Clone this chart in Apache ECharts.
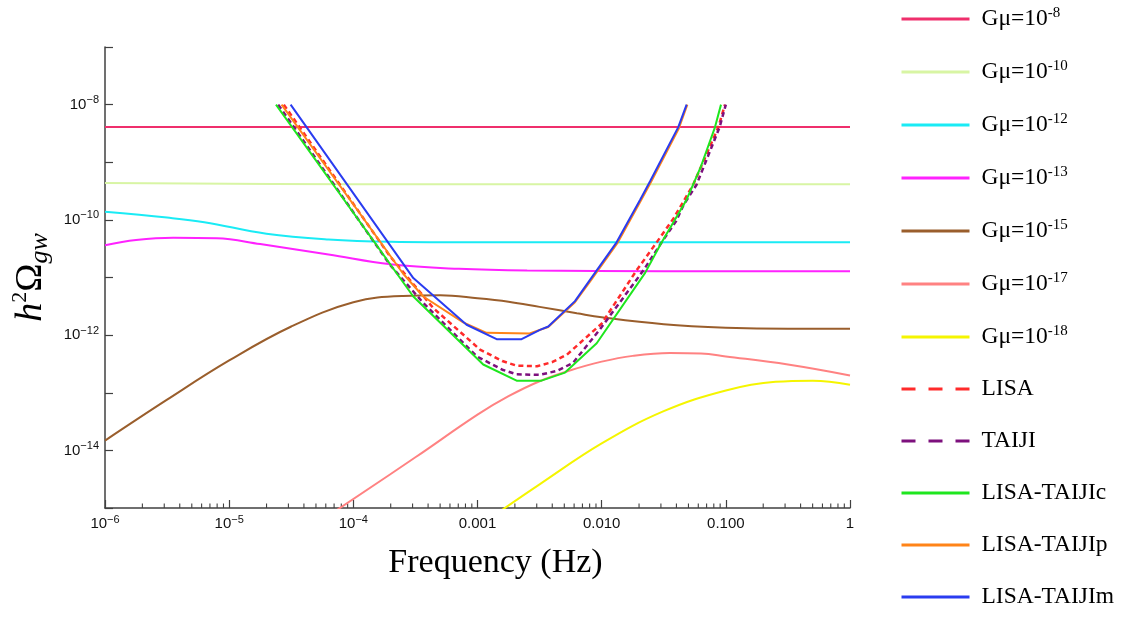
<!DOCTYPE html>
<html>
<head>
<meta charset="utf-8">
<title>h2 Omega gw sensitivity</title>
<script src="https://cdn.jsdelivr.net/npm/echarts@6/dist/echarts.min.js"></script>
<style>
  html, body { margin: 0; padding: 0; background: #fff; }
  #chart { width: 1142px; height: 619px; }
</style>
</head>
<body>
<div id="chart"></div>
<script>
// points, as [log10 f (Hz), log10 h^2 Omega_gw]
const gmu8 = [[-6, -8.39], [-3, -8.39], [0, -8.39]];
const gmu10 = [[-6, -9.36], [-4, -9.38], [0, -9.38]];
const gmu12 = [[-6, -9.86], [-5.5, -9.96], [-5.2, -10.04], [-4.7, -10.24], [-4.2, -10.34], [-3.7, -10.38], [-3, -10.39], [0, -10.39]];
const gmu13 = [[-6, -10.44], [-5.75, -10.35], [-5.45, -10.31], [-5.1, -10.32], [-4.75, -10.42], [-4.2, -10.60], [-3.7, -10.77], [-3.15, -10.85], [-2.6, -10.88], [-1.5, -10.89], [0, -10.89]];
const gmu15 = [[-6, -13.83], [-5.5, -13.12], [-5, -12.44], [-4.5, -11.85], [-4, -11.43], [-3.6, -11.32], [-3.3, -11.31], [-3, -11.36], [-2.75, -11.42], [-2.5, -11.51], [-2.2, -11.62], [-2, -11.69], [-1.5, -11.81], [-1, -11.87], [-0.5, -11.89], [0, -11.89]];
const gmu17 = [[-4.15, -15.06], [-3.5, -14.12], [-3, -13.38], [-2.75, -13.06], [-2.5, -12.80], [-2.25, -12.61], [-2, -12.46], [-1.75, -12.36], [-1.45, -12.31], [-1.2, -12.32], [-1, -12.37], [-0.5, -12.51], [0, -12.70]];
const gmu18 = [[-2.82, -15.06], [-2.5, -14.59], [-2, -13.88], [-1.5, -13.32], [-1, -12.96], [-0.6, -12.81], [-0.3, -12.79], [0, -12.86]];

const lisa = [[-4.56, -8], [-3.705, -10.63], [-3.356, -11.53], [-2.98, -12.25], [-2.8, -12.45], [-2.685, -12.53], [-2.52, -12.54], [-2.4, -12.47], [-2.28, -12.34], [-2.0, -11.80], [-1.72, -10.88], [-1.557, -10.39], [-1.42, -9.97], [-1.263, -9.39], [-1.06, -8.39], [-1.007, -8]];
const taiji = [[-4.605, -8], [-3.705, -10.78], [-3.437, -11.44], [-3.005, -12.37], [-2.8, -12.60], [-2.685, -12.68], [-2.5, -12.69], [-2.36, -12.62], [-2.23, -12.48], [-2.014, -11.90], [-1.665, -10.88], [-1.517, -10.39], [-1.4, -10.02], [-1.34, -9.74], [-1.236, -9.39], [-1.05, -8.39], [-1.0, -8]];
const lisaTaijiC = [[-4.623, -8], [-3.517, -11.33], [-2.954, -12.51], [-2.685, -12.79], [-2.485, -12.79], [-2.295, -12.65], [-2.04, -12.14], [-1.65, -10.92], [-1.52, -10.40], [-1.316, -9.65], [-1.2, -9.07], [-1.087, -8.39], [-1.039, -8]];
const lisaTaijiP = [[-4.578, -8], [-3.6, -10.93], [-3.437, -11.33], [-3.115, -11.78], [-2.927, -11.96], [-2.58, -11.97], [-2.43, -11.86], [-2.215, -11.43], [-2.09, -11.06], [-1.875, -10.41], [-1.685, -9.67], [-1.605, -9.35], [-1.378, -8.41], [-1.31, -8]];
const lisaTaijiM = [[-4.505, -8], [-3.517, -11.01], [-3.088, -11.82], [-2.846, -12.07], [-2.645, -12.07], [-2.497, -11.91], [-2.43, -11.85], [-2.215, -11.41], [-2.094, -11.04], [-1.88, -10.39], [-1.69, -9.65], [-1.61, -9.33], [-1.383, -8.39], [-1.316, -8]];

const seriesNames = ['Gμ=10^-8', 'Gμ=10^-10', 'Gμ=10^-12', 'Gμ=10^-13', 'Gμ=10^-15', 'Gμ=10^-17', 'Gμ=10^-18',
    'LISA', 'TAIJI', 'LISA-TAIJIc', 'LISA-TAIJIp', 'LISA-TAIJIm'];
const seriesData = [gmu8, gmu10, gmu12, gmu13, gmu15, gmu17, gmu18, lisa, taiji, lisaTaijiC, lisaTaijiP, lisaTaijiM];
const colorPallet = ['#ef2f6c', '#d8f5a4', '#1aebf5', '#ff22ff', '#9a5e2c', '#ff8282', '#f5f500',
    '#ff2a2a', '#7d107d', '#1ee61e', '#ff8418', '#2a3cf0'];

const xTickLabels = ['10^−6', '10^−5', '10^−4', '0.001', '0.010', '0.100', '1'];
const yTickLabels = ['', '10^−14', '', '10^−12', '', '10^−10', '', '10^−8', '']; // 1e-15 .. 1e-7

const serif = 'Liberation Serif';
const sans = 'Liberation Sans';
const dashed = i => i === 7 || i === 8;

function toRich(s, base, sup) {
    const parts = s.split('^');
    return parts.length > 1 ? `{${base}|${parts[0]}}{${sup}|${parts[1]}}` : `{${base}|${s}}`;
}

const tickRich = {
    b: { fontFamily: sans, fontSize: 15, lineHeight: 20, color: '#111' },
    sup: { fontFamily: sans, fontSize: 11, lineHeight: 11, verticalAlign: 'top', color: '#111' }
};

const chart = echarts.init(document.getElementById('chart'));

chart.setOption({
    animation: false,
    grid: { left: 105, top: 47, width: 745, height: 461, outerBoundsMode: 'none' },
    legend: {
        orient: 'vertical',
        left: 900,
        top: 6,
        padding: 0,
        itemWidth: 68,
        itemHeight: 14,
        itemGap: 28,
        itemStyle: { opacity: 0 },
        lineStyle: { width: 3 },
        textStyle: {
            padding: [0, 0, 0, 7],
            rich: {
                t: { fontFamily: serif, fontSize: 23.5, lineHeight: 26, color: '#000' },
                s: { fontFamily: serif, fontSize: 15, lineHeight: 14, verticalAlign: 'top', color: '#000' }
            }
        },
        formatter: name => toRich(name, 't', 's'),
        data: seriesNames.map((n, i) => dashed(i)
            ? { name: n, lineStyle: { type: [14, 13], width: 3 } }
            : { name: n })
    },
    xAxis: {
        type: 'log',
        logBase: 10,
        min: 1e-6,
        max: 1,
        interval: 1,
        name: 'Frequency (Hz)',
        nameLocation: 'middle',
        nameGap: 38,
        nameTextStyle: { fontFamily: serif, fontSize: 34, color: '#000', padding: [0, 0, 0, 36] },
        axisLine: { lineStyle: { color: '#404040', width: 1.5 } },
        axisTick: { inside: true, length: 8, lineStyle: { color: '#404040', width: 1.2 } },
        axisLabel: {
            margin: 6,
            rich: tickRich,
            formatter: v => toRich(xTickLabels[Math.round(Math.log10(v)) + 6] || '', 'b', 'sup')
        },
        splitLine: { show: false }
    },
    yAxis: {
        type: 'log',
        logBase: 10,
        min: 1e-15,
        max: 1e-7,
        interval: 1,
        name: '{i|h}{sup|2}{n|Ω}{sub|gw}',
        nameLocation: 'middle',
        nameRotate: 90,
        nameGap: 50,
        nameTextStyle: {
            rich: {
                i: { fontFamily: serif, fontStyle: 'italic', fontSize: 38, lineHeight: 44, color: '#000' },
                sup: { fontFamily: serif, fontSize: 22, lineHeight: 22, verticalAlign: 'top', color: '#000' },
                n: { fontFamily: serif, fontSize: 38, lineHeight: 44, color: '#000' },
                sub: { fontFamily: serif, fontStyle: 'italic', fontSize: 26, lineHeight: 30, verticalAlign: 'bottom', color: '#000' }
            }
        },
        axisLine: { lineStyle: { color: '#404040', width: 1.5 } },
        axisTick: { inside: true, length: 8, lineStyle: { color: '#404040', width: 1.2 } },
        axisLabel: {
            margin: 6,
            rich: tickRich,
            formatter: v => toRich(yTickLabels[Math.round(Math.log10(v)) + 15] || '', 'b', 'sup')
        },
        splitLine: { show: false }
    },
    series: seriesData.map((d, i) => ({
        name: seriesNames[i],
        type: 'line',
        data: d.map(p => [Math.pow(10, p[0]), Math.pow(10, p[1])]),
        smooth: i < 7 ? 0.4 : false,
        symbol: 'none',
        color: colorPallet[i],
        lineStyle: {
            width: dashed(i) ? 2.5 : 2,
            type: dashed(i) ? [5, 3.5] : 'solid'
        },
        z: 2 + i
    }))
});

// minor ticks of the log x axis (2..9 in every decade), placed through the axis scale
const minorTicks = [];
for (let e = -6; e < 0; e++) {
    for (let k = 2; k <= 9; k++) {
        const p = chart.convertToPixel({ xAxisIndex: 0, yAxisIndex: 0 }, [k * Math.pow(10, e), 1e-15]);
        minorTicks.push({
            type: 'line',
            shape: { x1: p[0], y1: p[1], x2: p[0], y2: p[1] - 4.5 },
            style: { stroke: '#404040', lineWidth: 1.1 },
            silent: true
        });
    }
}
chart.setOption({ graphic: minorTicks });
</script>
</body>
</html>
